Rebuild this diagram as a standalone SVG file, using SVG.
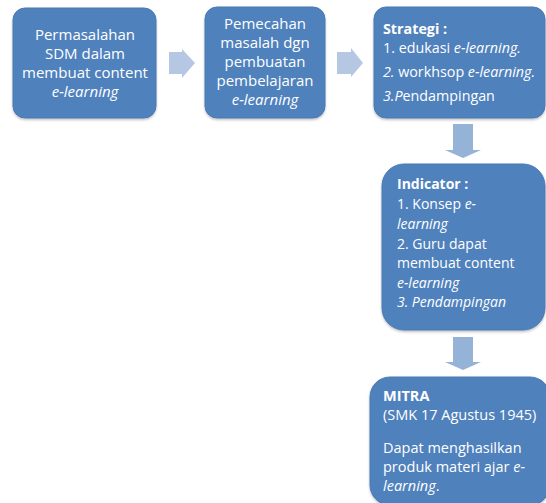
<svg xmlns="http://www.w3.org/2000/svg" width="546" height="503" viewBox="0 0 546 503">
<style>
.box{fill:#4F81BD;stroke:#4A7AB3;stroke-width:1}
.t{font-family:"Open Sans","Liberation Sans",sans-serif;fill:#FFFFFF}
.c{text-anchor:middle;font-size:15px}
.s{font-size:14px}
.s3{font-size:14.3px}
.s5{font-size:14.5px}
.i{font-style:italic}
.b{font-weight:bold}
.ha{fill:#B6C7E3}
.va{fill:#95B3D7}
</style>
<defs>
<filter id="sh" x="-10%" y="-10%" width="120%" height="120%">
<feDropShadow dx="0" dy="1.5" stdDeviation="1.2" flood-color="#000000" flood-opacity="0.25"/>
</filter>
</defs>
<rect width="546" height="503" fill="#FFFFFF"/>
<g id="connectors">
<polygon class="ha" points="169,52 182,52 182,49 195,63 182,78 182,74 169,74"/>
<polygon class="ha" points="337,52 351,52 351,48 363,63 351,77 351,74 337,74"/>
<polygon class="va" points="453,124 473,124 473,150 481,150 463,158 445,150 453,150"/>
<polygon class="va" points="453,337 473,337 473,362 481,362 463,370 445,362 453,362"/>
</g>
<g id="node1">
<rect class="box" x="13" y="8" width="143" height="110" rx="12" filter="url(#sh)"/>
<text class="t c" x="85" y="40">Permasalahan</text>
<text class="t c" x="85" y="59">SDM dalam</text>
<text class="t c" x="85" y="78">membuat content</text>
<text class="t c i" x="85" y="97">e-learning</text>
</g>
<g id="node2">
<rect class="box" x="205" y="7" width="120" height="111" rx="12" filter="url(#sh)"/>
<text class="t c" x="265" y="29">Pemecahan</text>
<text class="t c" x="265" y="48">masalah dgn</text>
<text class="t c" x="265" y="67">pembuatan</text>
<text class="t c" x="265" y="86">pembelajaran</text>
<text class="t c i" x="265" y="105">e-learning</text>
</g>
<g id="node3">
<rect class="box" x="374" y="7" width="171" height="111" rx="12" filter="url(#sh)"/>
<text class="t s3 b" x="383" y="34">Strategi :</text>
<text class="t s3" x="383" y="53">1. edukasi <tspan class="i">e-learning.</tspan></text>
<text class="t s3" x="383" y="77"><tspan class="i">2.</tspan> workhsop <tspan class="i">e-learning.</tspan></text>
<text class="t s3" x="383" y="101"><tspan class="i">3.P</tspan>endampingan</text>
</g>
<g id="node4">
<rect class="box" x="382" y="164" width="163" height="166" rx="22" filter="url(#sh)"/>
<text class="t s b" x="397" y="189">Indicator :</text>
<text class="t s" x="397" y="209">1. Konsep <tspan class="i">e-</tspan></text>
<text class="t s i" x="397" y="229">learning</text>
<text class="t s" x="397" y="249">2. Guru dapat</text>
<text class="t s" x="397" y="268">membuat content</text>
<text class="t s i" x="397" y="288">e-learning</text>
<text class="t s i" x="397" y="307">3. Pendampingan</text>
</g>
<g id="node5">
<rect class="box" x="370" y="377" width="180" height="128" rx="20" filter="url(#sh)"/>
<text class="t s5 b" x="383" y="401">MITRA</text>
<text class="t s5" x="383" y="420">(SMK 17 Agustus 1945)</text>
<text class="t s5" x="383" y="453">Dapat menghasilkan</text>
<text class="t s5" x="383" y="472">produk materi ajar <tspan class="i">e-</tspan></text>
<text class="t s5" x="383" y="491"><tspan class="i">learning</tspan>.</text>
</g>
</svg>
